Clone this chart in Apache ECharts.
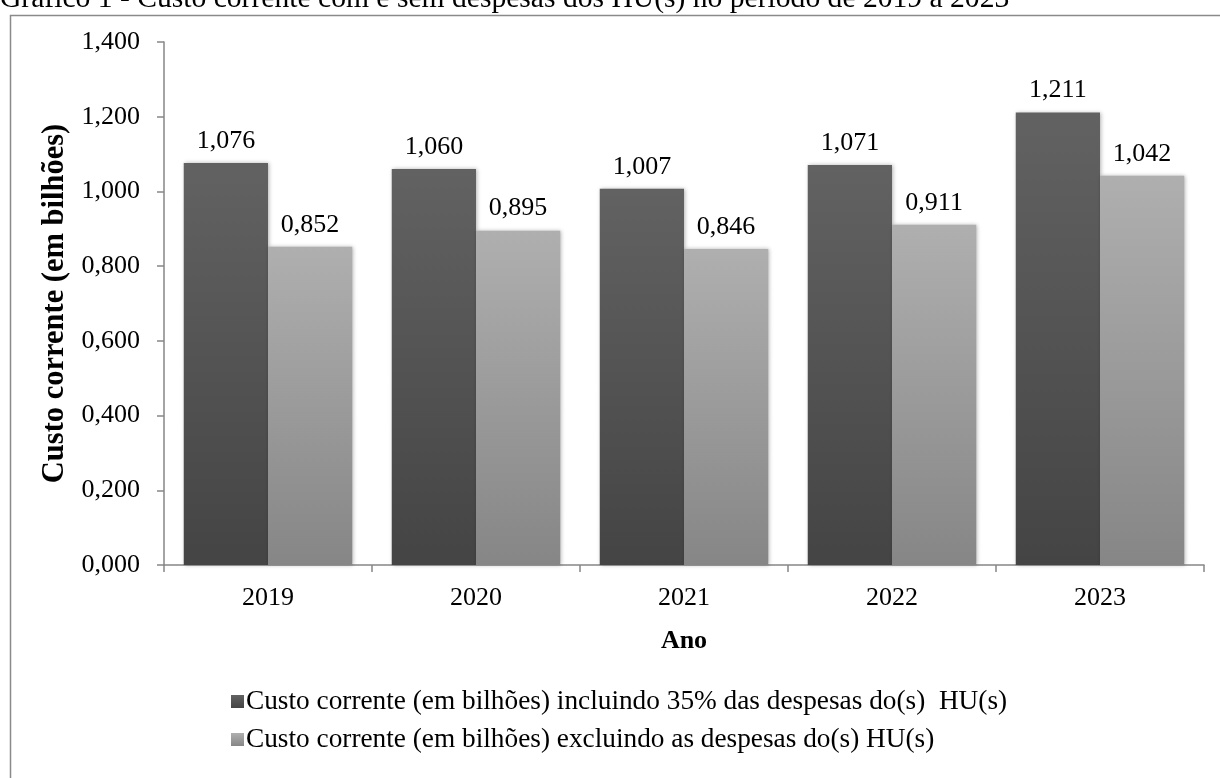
<!DOCTYPE html>
<html>
<head>
<meta charset="utf-8">
<script src="https://cdn.jsdelivr.net/npm/echarts@6/dist/echarts.min.js"></script>
<style>
html,body{margin:0;padding:0;background:#fff;}
#chart{width:1220px;height:778px;}
</style>
</head>
<body>
<div id="chart"></div>
<script>
const categories = ['2019', '2020', '2021', '2022', '2023'];
const seriesNames = [
  'Custo corrente (em bilhões) incluindo 35% das despesas do(s)  HU(s)',
  'Custo corrente (em bilhões) excluindo as despesas do(s) HU(s)'
];
const withHU = [1.076, 1.060, 1.007, 1.071, 1.211];
const withoutHU = [0.852, 0.895, 0.846, 0.911, 1.042];
const titleText = 'Gráfico 1 - Custo corrente com e sem despesas dos HU(s) no período de 2019 a 2023';
const yAxisName = 'Custo corrente (em bilhões)';
const xAxisName = 'Ano';

const FONT = '"Liberation Serif", "Times New Roman", serif';
const fmt = v => Number(v).toFixed(3).replace('.', ',');

function grad(top, bottom) {
  return new echarts.graphic.LinearGradient(0, 0, 0, 1, [
    {offset: 0, color: top}, {offset: 1, color: bottom}
  ]);
}

const chart = echarts.init(document.getElementById('chart'), null, {renderer: 'canvas'});
const labelCfg = {
  show: true, position: 'top', distance: 9,
  fontFamily: FONT, fontSize: 26, color: '#000',
  formatter: p => fmt(p.value)
};
const option = {
  animation: false,
  backgroundColor: '#fff',
  graphic: [
    {type: 'rect', left: 8, top: 13, shape: {width: 1240, height: 800},
     style: {fill: 'none', stroke: '#8a8a8a', lineWidth: 1.5}, z: -1},
    {type: 'text', left: 0, top: -16,
     style: {text: titleText, font: '29.6px ' + FONT, fill: '#000'}}
  ],
  grid: {left: 164, right: 16, top: 42, bottom: 213, containLabel: false},
  legend: {
    orient: 'vertical', left: 226, top: 683, itemGap: 11,
    itemWidth: 13, itemHeight: 13, icon: 'rect', itemStyle: {shadowBlur: 0},
    textStyle: {fontFamily: FONT, fontSize: 27.3, color: '#000', padding: [0,0,0,-3]},
    data: seriesNames
  },
  xAxis: {
    type: 'category', data: categories,
    name: xAxisName, nameLocation: 'middle', nameGap: 63,
    nameTextStyle: {fontFamily: FONT, fontSize: 26, fontWeight: 'bold', color: '#000'},
    axisLine: {lineStyle: {color: '#868686', width: 1.5}},
    axisTick: {show: true, length: 7, lineStyle: {color: '#868686', width: 1.5}},
    axisLabel: {fontFamily: FONT, fontSize: 26, color: '#000', margin: 20}
  },
  yAxis: {
    type: 'value', min: 0, max: 1.4, interval: 0.2,
    name: yAxisName, nameLocation: 'middle', nameGap: 92, nameRotate: 90,
    nameTextStyle: {fontFamily: FONT, fontSize: 30.5, fontWeight: 'bold', color: '#000'},
    axisLine: {show: true, lineStyle: {color: '#868686', width: 1.5}},
    axisTick: {show: true, length: 7, lineStyle: {color: '#868686', width: 1.5}},
    splitLine: {show: false},
    axisLabel: {fontFamily: FONT, fontSize: 26, color: '#000', margin: 24, formatter: fmt}
  },
  series: [
    {name: seriesNames[0], type: 'bar', data: withHU, barGap: '0%', barCategoryGap: '19%',
     itemStyle: {color: grad('#626262', '#444444'), shadowColor: 'rgba(0,0,0,0.3)', shadowBlur: 4, shadowOffsetX: 1},
     label: labelCfg},
    {name: seriesNames[1], type: 'bar', data: withoutHU, barGap: '0%', barCategoryGap: '19%',
     itemStyle: {color: grad('#afafaf', '#868686'), shadowColor: 'rgba(0,0,0,0.3)', shadowBlur: 4, shadowOffsetX: 1},
     label: labelCfg}
  ]
};
chart.setOption(option);
</script>
</body>
</html>
